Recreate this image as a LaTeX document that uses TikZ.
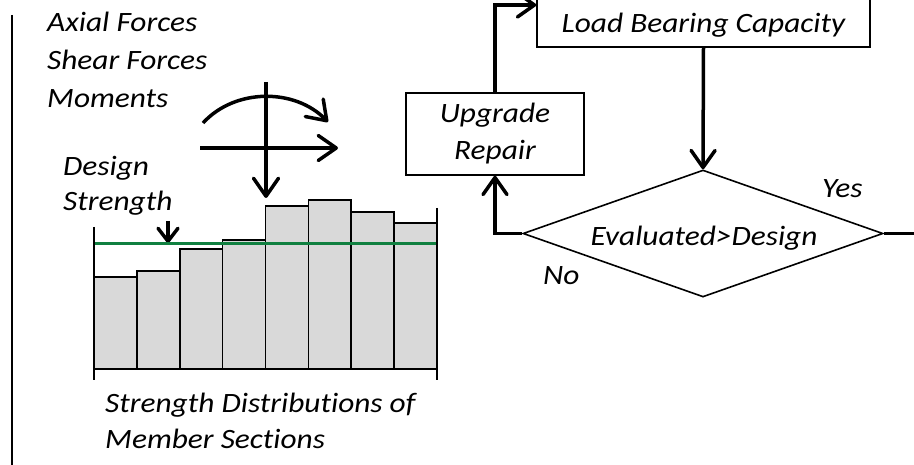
\documentclass[tikz,border=0pt]{standalone}
\usepackage{fontspec}
\setmainfont{Carlito}[FakeStretch=1.12, Ligatures=NoCommon]
\usetikzlibrary{arrows.meta,shapes.geometric}
\definecolor{barfill}{RGB}{217,217,217}
\definecolor{designgreen}{RGB}{16,128,64}
\begin{document}
\begin{tikzpicture}[x=1pt,y=-1pt,
  lbl/.style={font=\fontsize{28}{37}\selectfont\itshape, inner sep=0pt},
  flowbox/.style={draw, line width=1.6pt, inner sep=0pt, align=center,
    font=\fontsize{28}{37}\selectfont\itshape},
  conn/.style={line width=3.5pt, -{Straight Barb[length=17pt,width=24pt,round]}},
  force/.style={line width=3.5pt, -{Straight Barb[length=18pt,width=25pt,round]}},
  barline/.style={line width=1.6pt}]
\useasboundingbox (0,0) rectangle (914,465);
\clip (0,0) rectangle (914,465);

% left rule
\draw[line width=2pt] (12,15) -- (12,470);

% load effect labels
\node[lbl, anchor=base west] (axial) at (47,32) {Axial Forces};
\node[lbl, anchor=base west] (shear) at (47,70) {Shear Forces};
\node[lbl, anchor=base west] (moments) at (47,108) {Moments};
\node[lbl, anchor=base west] (design) at (63,176) {Design};
\node[lbl, anchor=base west] (strength) at (63,211) {Strength};

% force symbols
\draw[force] (203,123) .. controls (235,88) and (295,88) .. (328,122);
\draw[force] (200,148) -- (338,148);
\draw[force] (266,82) -- (266,198);
\draw[line width=3.5pt, -{Straight Barb[length=13pt,width=20pt,round]}] (168,221) -- (168,243);

% strength histogram
\foreach \t [count=\i from 0] in {277,271,249,240,206,200,212,223}
  \draw[barline, fill=barfill] ({94+\i*42.875},369) rectangle ({94+(\i+1)*42.875},\t);
\draw[designgreen, line width=3pt] (94,244) -- (437,244);
\draw[line width=2pt] (94,227) -- (94,380);
\draw[line width=2pt] (437,208) -- (437,380);
\draw[line width=2pt] (94,369) -- (437,369);

\node[lbl, anchor=base west] (dist1) at (105,412) {Strength Distributions of};
\node[lbl, anchor=base west] (dist2) at (105,448) {Member Sections};

% flow chart
\node[flowbox, minimum width=333pt, minimum height=84pt] (cap) at (703.5,5) {};
\node[lbl, anchor=base] (captxt) at (703.5,33) {Load Bearing Capacity};
\node[flowbox, minimum width=178pt, minimum height=82pt] (upg) at (495,134)
  {Upgrade\\Repair};
\node[draw, diamond, line width=1.6pt, inner sep=0pt, aspect=2.83,
  minimum width=360pt, minimum height=127pt] (eval) at (703,233.5) {};
\node[lbl, anchor=base] (evaltxt) at (704,246) {Evaluated>Design};
\node[lbl, anchor=base west] (yes) at (822,198) {Yes};
\node[lbl, anchor=base west] (no) at (543,285) {No};
\coordinate (yesend) at (920,233.5);

\draw[conn] (cap.south) -- (eval.north);
\draw[conn] (eval.west) -| (upg.south);
\draw[conn] (upg.north) |- (cap.west);
\draw[line width=3.5pt] (eval.east) -- (yesend);
\end{tikzpicture}
\end{document}
